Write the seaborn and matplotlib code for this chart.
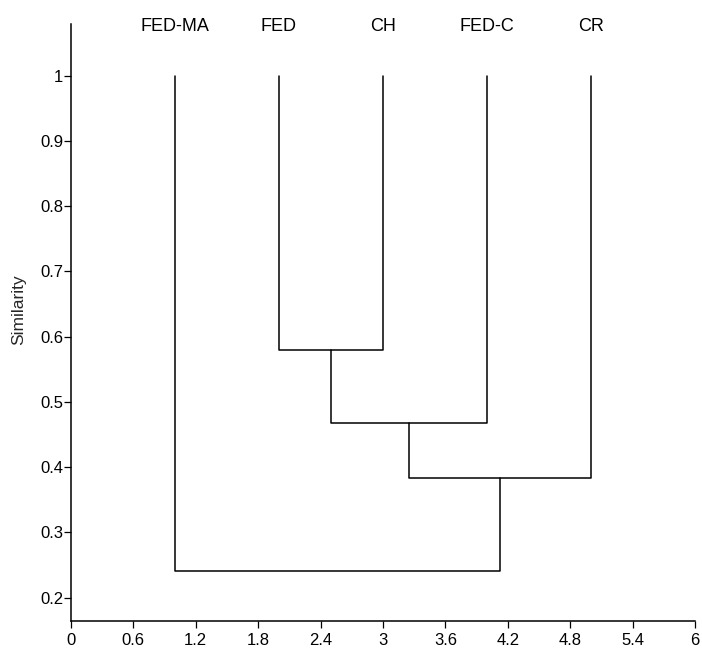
import matplotlib
matplotlib.use("Agg")
import matplotlib.pyplot as plt
import seaborn as sns
import pandas as pd

# Leaves in display order and their x positions
leaf_names = ["FED-MA", "FED", "CH", "FED-C", "CR"]
leaf_x = [1, 2, 3, 4, 5]
leaf_top = 1.0

# Merge steps: (left node, right node, similarity). Nodes 0-4 are leaves,
# node 5+ are clusters created in order.
merge_left = [1, 5, 6, 0]
merge_right = [2, 3, 4, 7]
merge_sim = [0.58, 0.467, 0.383, 0.241]

x_ticks = [0, 0.6, 1.2, 1.8, 2.4, 3, 3.6, 4.2, 4.8, 5.4, 6]
x_tick_labels = ["0", "0.6", "1.2", "1.8", "2.4", "3", "3.6", "4.2", "4.8", "5.4", "6"]
y_ticks = [0.2, 0.3, 0.4, 0.5, 0.6, 0.7, 0.8, 0.9, 1.0]
y_tick_labels = ["0.2", "0.3", "0.4", "0.5", "0.6", "0.7", "0.8", "0.9", "1"]

# Build the dendrogram's elbow segments from the merge table
node_x = list(leaf_x)
node_y = [leaf_top] * len(leaf_x)
rows = []
for k, (a, b, s) in enumerate(zip(merge_left, merge_right, merge_sim)):
    seg = [(node_x[a], node_y[a]), (node_x[a], s), (node_x[b], s), (node_x[b], node_y[b])]
    for order, (px, py) in enumerate(seg):
        rows.append({"seg": k, "order": order, "x": px, "y": py})
    node_x.append((node_x[a] + node_x[b]) / 2)
    node_y.append(s)
segments = pd.DataFrame(rows)

sns.set_theme(style="white")
plt.rcParams["font.family"] = ["Liberation Sans", "DejaVu Sans"]

fig = plt.figure(figsize=(7.02, 6.48), dpi=100)
ax = fig.add_axes([0.1011, 0.0417, 0.8889, 0.9213])

sns.lineplot(data=segments, x="x", y="y", units="seg", estimator=None,
             sort=False, color="black", linewidth=1.1, ax=ax, legend=False)

for name, lx in zip(leaf_names, leaf_x):
    ax.text(lx, 1.0686, name, ha="center", va="baseline", fontsize=13,
            color="black", clip_on=False)

ax.set_xlim(0, 6)
ax.set_ylim(0.1643, 1.079)
ax.set_xticks(x_ticks)
ax.set_xticklabels(x_tick_labels)
ax.set_yticks(y_ticks)
ax.set_yticklabels(y_tick_labels)
ax.set_xlabel("")
ax.set_ylabel("Similarity", fontsize=12.5)
ax.yaxis.set_label_coords(-0.0713, 0.521)

for side in ["top", "right"]:
    ax.spines[side].set_visible(False)
for side in ["left", "bottom"]:
    ax.spines[side].set_color("black")
    ax.spines[side].set_linewidth(1.1)

ax.tick_params(axis="both", which="major", direction="out", length=5, width=0.9,
               color="black", labelsize=12, labelcolor="black",
               bottom=True, left=True)
ax.tick_params(axis="y", pad=0.5)
ax.tick_params(axis="x", pad=3.3)

fig.savefig("out.png", dpi=100)
